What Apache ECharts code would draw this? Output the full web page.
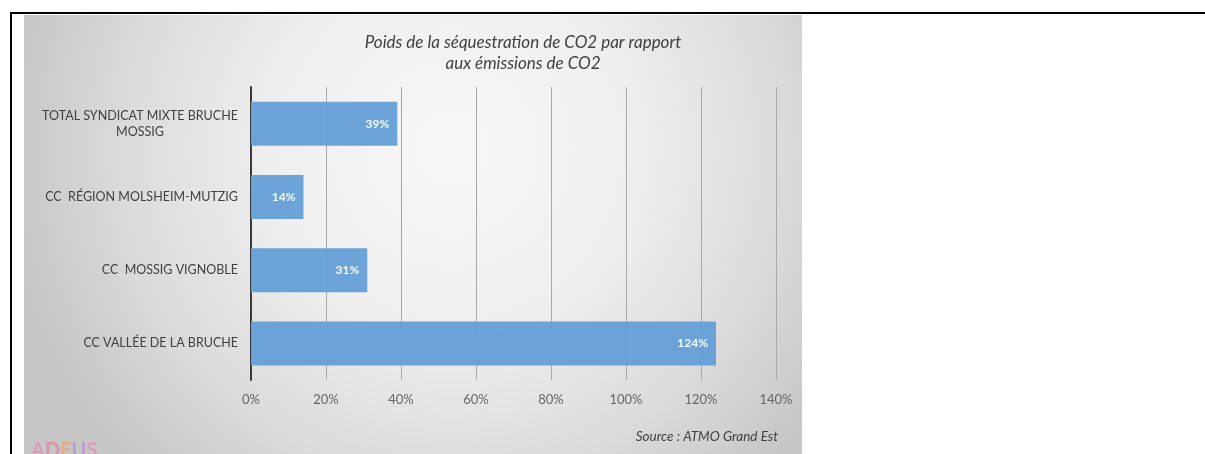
<!DOCTYPE html>
<html>
<head>
<meta charset="utf-8">
<script src="https://cdn.jsdelivr.net/npm/echarts@6/dist/echarts.min.js"></script>
<style>
  html, body { margin: 0; padding: 0; background: #ffffff; }
  #chart { width: 1205px; height: 454px; }
</style>
</head>
<body>
<div id="chart"></div>
<script>
// ---- data ----
const categories = [
  "TOTAL SYNDICAT MIXTE BRUCHE\nMOSSIG",
  "CC  RÉGION MOLSHEIM-MUTZIG",
  "CC  MOSSIG VIGNOBLE",
  "CC VALLÉE DE LA BRUCHE"
];
const values = [39, 14, 31, 124];
const axisMin = 0;
const axisMax = 140;
const axisStep = 20;
const titleLines = ["Poids de la séquestration de CO2 par rapport", "aux émissions de CO2"];
const sourceText = "Source : ATMO Grand Est";
const logoLetters = ["A", "D", "E", "U", "S"];

// ---- chart ----
const chart = echarts.init(document.getElementById('chart'), null, { renderer: 'canvas' });
const txt = '#404040';
const font = 'Lato, "Open Sans", sans-serif';

const logoColors = ['#e58bb5', '#e07c9c', '#f0a070', '#b08ad0', '#e58bb5'];
const logoRich = {};
logoLetters.forEach((l, i) => { logoRich['l' + i] = { fill: logoColors[i], fontSize: 20, fontWeight: 'bold', fontFamily: font }; });

// multi-line category labels are centred on themselves (as in the source), single lines right-aligned
const catData = categories.map(c => c.indexOf('\n') >= 0
  ? { value: c, textStyle: { align: 'center', padding: [0, 196, 0, 0] } }
  : c);

const option = {
  animation: false,
  backgroundColor: '#ffffff',
  title: {
    text: titleLines.join('\n'),
    left: 518,
    textAlign: 'center',
    top: 27,
    textStyle: { fontSize: 17, fontStyle: 'italic', fontWeight: 'normal', color: txt, fontFamily: font, lineHeight: 21 }
  },
  graphic: [
    { type: 'rect', z: -100, silent: true,
      shape: { x: 24, y: 15, width: 778, height: 445 },
      style: { fill: new echarts.graphic.RadialGradient(0.55, 0.3, 1.0, [
        { offset: 0, color: '#f7f7f7' },
        { offset: 0.4, color: '#efefef' },
        { offset: 0.75, color: '#dadada' },
        { offset: 1, color: '#c6c6c6' }
      ]) } },
    { type: 'line', z: 100, silent: true, shape: { x1: 10, y1: 13, x2: 1205, y2: 13 }, style: { stroke: '#000', lineWidth: 2 } },
    { type: 'line', z: 100, silent: true, shape: { x1: 11, y1: 12, x2: 11, y2: 454 }, style: { stroke: '#000', lineWidth: 2 } },
    { type: 'text', z: 50, silent: true, right: 1205 - 778, top: 430,
      style: { text: sourceText, fill: txt, font: 'italic 13.5px ' + font, textAlign: 'right' } },
    { type: 'text', z: 50, silent: true, left: 31, top: 441,
      style: { text: logoLetters.map((l, i) => '{l' + i + '|' + l + '}').join(''), rich: logoRich, opacity: 0.7 } }
  ],
  grid: { left: 251, right: 429, top: 87, bottom: 74, containLabel: false },
  xAxis: {
    type: 'value', min: axisMin, max: axisMax, interval: axisStep,
    axisLine: { show: false }, axisTick: { show: false },
    splitLine: { show: true, lineStyle: { color: '#a9a9a9', width: 1 } },
    axisLabel: { formatter: '{value}%', color: '#666666', fontSize: 13, fontFamily: font, margin: 13 }
  },
  yAxis: {
    type: 'category', data: catData, inverse: true,
    axisLine: { show: true, lineStyle: { color: '#3a3a3a', width: 2 } },
    axisTick: { show: false },
    axisLabel: { color: txt, fontSize: 12.5, fontFamily: font, margin: 13, lineHeight: 16 }
  },
  series: [{
    type: 'bar', data: values, barWidth: 44,
    itemStyle: { color: '#649fd7', opacity: 0.95 },
    label: {
      show: true, position: 'insideRight', distance: 8,
      formatter: '{c}%', color: '#ffffff', fontWeight: 'bold', fontSize: 12, fontFamily: font
    }
  }]
};
chart.setOption(option);
</script>
</body>
</html>
